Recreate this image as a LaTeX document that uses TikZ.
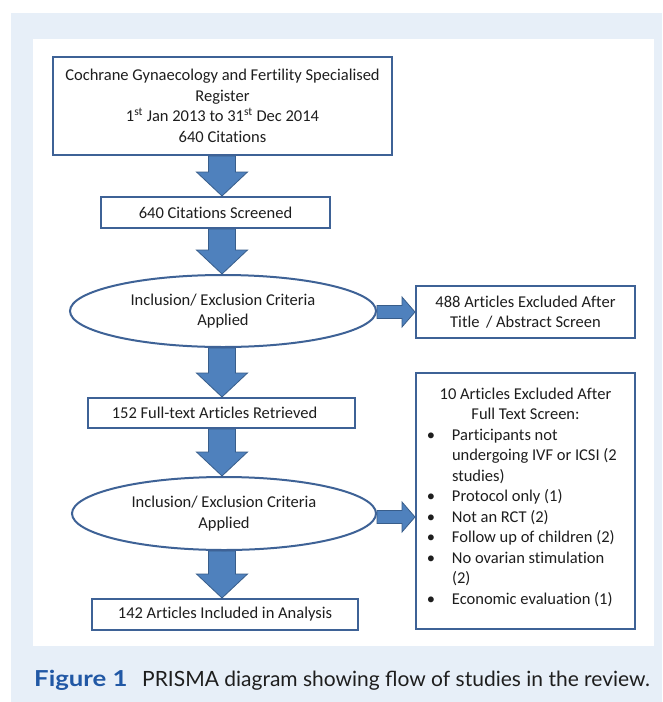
\documentclass[tikz,border=0pt]{standalone}
\usepackage{fontspec}
\setmainfont{Carlito}[Ligatures=CommonOff]
\newfontfamily\capfont{Lato}
\usetikzlibrary{shapes.geometric,calc}
\definecolor{bgblue}{RGB}{231,239,248}
\definecolor{boxblue}{RGB}{62,98,150}
\definecolor{arrfill}{RGB}{79,129,189}
\definecolor{arrline}{RGB}{56,93,138}
\definecolor{capblue}{RGB}{33,88,165}
\definecolor{txt}{RGB}{30,30,30}
\pgfdeclarelayer{bg}
\pgfdeclarelayer{arr}
\pgfsetlayers{bg,arr,main}
\newcommand\vblock[2]{%
  \path[blockarrow] let \p1=(#1.south), \p2=(#2.north) in
  (208.5pt,\y1) -- (235.5pt,\y1) -- (235.5pt,\y2+24pt) -- (247.5pt,\y2+24pt)
  -- (222pt,\y2) -- (196.5pt,\y2+24pt) -- (208.5pt,\y2+24pt) -- cycle;}
\newcommand\hblock[3]{%
  \path[blockarrow] let \p1=(#1.east), \p2=(#2.west) in
  (\x1,\y1+#3+6.5pt) -- (\x2-13pt,\y1+#3+6.5pt) -- (\x2-13pt,\y1+#3+15pt)
  -- (\x2,\y1+#3) -- (\x2-13pt,\y1+#3-15pt) -- (\x2-13pt,\y1+#3-6.5pt)
  -- (\x1,\y1+#3-6.5pt) -- cycle;}
\newcommand\bitem{\noindent\llap{\textbullet\hspace{17pt}}}
\begin{document}
\begin{tikzpicture}[x=1pt,y=-1pt,
  box/.style={draw=boxblue,line width=2pt,fill=white,rectangle,inner sep=0pt,
    align=center,text=txt,font=\fontsize{16.5}{20.5}\selectfont},
  oval/.style={box,ellipse},
  blockarrow/.style={fill=arrfill,draw=arrline,line width=0.8pt,line join=miter}]
\useasboundingbox (0,0) rectangle (662,702);
\begin{pgfonlayer}{bg}
\fill[bgblue] (11,13) rectangle (662,702);
\fill[white] (33,39) rectangle (654,646);
\end{pgfonlayer}

\node[box,minimum width=339pt,minimum height=98pt] (top) at (222.5,106)
  {Cochrane Gynaecology and Fertility Specialised\\Register\\
   1\textsuperscript{st} Jan 2013 to 31\textsuperscript{st} Dec 2014\\640 Citations};
\node[box,minimum width=229pt,minimum height=31pt] (scr) at (215.5,212.5)
  {640 Citations Screened};
\node[oval,minimum width=306pt,minimum height=72pt] (ell1) at (223,311)
  {Inclusion/ Exclusion Criteria\\Applied};
\node[box,minimum width=219pt,minimum height=52pt] (ex1) at (525.5,312)
  {488 Articles Excluded After\\Title \,/ Abstract Screen};
\node[box,minimum width=267pt,minimum height=30pt] (ret) at (221.5,413)
  {152 Full-text Articles Retrieved\hspace*{14pt}};
\node[oval,minimum width=304pt,minimum height=73pt] (ell2) at (224,513.5)
  {Inclusion/ Exclusion Criteria\\Applied};
\node[box,minimum width=219pt,minimum height=256pt] (ex2) at (525.5,501)
  {\begin{minipage}{219pt}
   {\centering 10 Articles Excluded After\\Full Text Screen:\par}
   \leftskip=36pt\parindent=0pt
   \bitem Participants not\\undergoing IVF or ICSI (2\\studies)\par
   \bitem Protocol only (1)\par
   \bitem Not an RCT (2)\par
   \bitem Follow up of children (2)\par
   \bitem No ovarian stimulation\\(2)\par
   \bitem Economic evaluation (1)\par
   \vspace{8pt}
   \end{minipage}};
\node[box,minimum width=266pt,minimum height=31pt] (inc) at (225,614.5)
  {142 Articles Included in Analysis};

\begin{pgfonlayer}{arr}
\vblock{top}{scr}
\vblock{scr}{ell1}
\vblock{ell1}{ret}
\vblock{ret}{ell2}
\vblock{ell2}{inc}
\hblock{ell1}{ex1}{-1pt}
\hblock{ell2}{ex2}{-3.5pt}
\end{pgfonlayer}

\node[anchor=base west,inner sep=0pt,text=capblue,
  font=\capfont\bfseries\fontsize{22}{25}\selectfont] (fig) at (34,686)
  {\scalebox{1.17}[1]{Figure 1}};
\node[anchor=base west,inner sep=0pt,text=txt,
  font=\capfont\fontsize{21}{25}\selectfont] (cap) at (142,686)
  {PRISMA diagram showing flow of studies in the review.};
\end{tikzpicture}
\end{document}
